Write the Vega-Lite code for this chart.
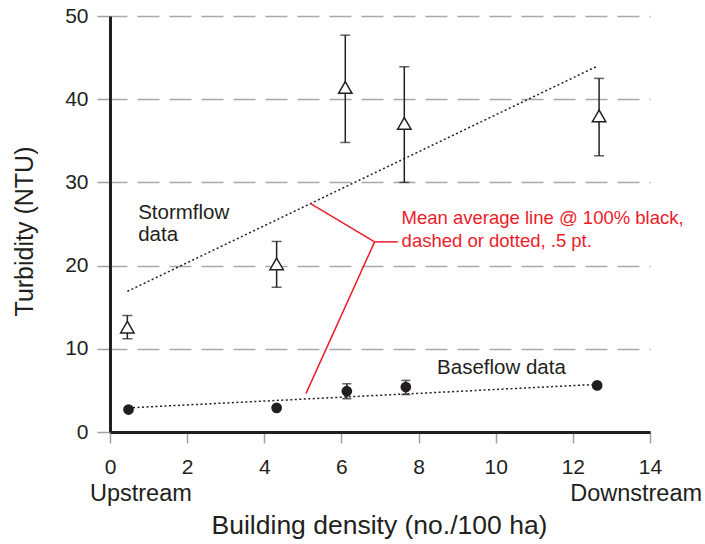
{
  "$schema": "https://vega.github.io/schema/vega-lite/v6.json",
  "autosize": {"type": "none"},
  "padding": {"left": 110, "top": 16, "right": 55, "bottom": 112},
  "width": 540,
  "height": 416,
  "background": "white",
  "config": {
    "view": {"stroke": null},
    "text": {"font": "Liberation Sans", "color": "#231f20"}
  },
  "datasets": {
    "storm": [
      {"x": 0.45, "y": 12.6, "lo": 11.2, "hi": 14.0},
      {"x": 4.32, "y": 20.2, "lo": 17.4, "hi": 22.9},
      {"x": 6.10, "y": 41.4, "lo": 34.8, "hi": 47.7},
      {"x": 7.63, "y": 37.1, "lo": 30.0, "hi": 43.9},
      {"x": 12.68, "y": 38.0, "lo": 33.2, "hi": 42.5}
    ],
    "base": [
      {"x": 0.48, "y": 2.7},
      {"x": 4.32, "y": 2.9},
      {"x": 6.14, "y": 4.9},
      {"x": 7.67, "y": 5.4},
      {"x": 12.63, "y": 5.6}
    ],
    "baseErr": [
      {"x": 6.14, "lo": 4.0, "hi": 5.8},
      {"x": 7.67, "lo": 4.5, "hi": 6.2}
    ],
    "trend": [
      {"x": 0.45, "y": 16.9, "x2": 12.6, "y2": 43.9},
      {"x": 0.48, "y": 2.9, "x2": 12.53, "y2": 5.7}
    ],
    "leader": [
      {"x": 5.19, "y": 27.47, "x2": 6.86, "y2": 22.85},
      {"x": 6.86, "y": 22.85, "x2": 7.46, "y2": 22.85},
      {"x": 6.86, "y": 22.85, "x2": 5.08, "y2": 4.61}
    ],
    "labels": [
      {"x": 0.73, "y": 25.6, "text": "Stormflow"},
      {"x": 0.73, "y": 22.9, "text": "data"},
      {"x": 8.48, "y": 6.97, "text": "Baseflow data"}
    ],
    "redLabels": [
      {"x": 7.56, "y": 24.96, "text": "Mean average line @ 100% black,"},
      {"x": 7.56, "y": 22.27, "text": "dashed or dotted, .5 pt."}
    ],
    "stream": [
      {"x": 0.80, "y": -8.29, "text": "Upstream"},
      {"x": 13.64, "y": -8.29, "text": "Downstream"}
    ]
  },
  "layer": [
    {
      "data": {"name": "storm"},
      "mark": {"type": "rule", "color": "#231f20", "strokeWidth": 1.5},
      "encoding": {
        "x": {
          "field": "x", "type": "quantitative",
          "scale": {"domain": [0, 14], "nice": false, "zero": false},
          "axis": {
            "title": "Building density (no./100 ha)",
            "values": [0, 2, 4, 6, 8, 10, 12, 14],
            "grid": false,
            "domainColor": "#231f20", "domainWidth": 3,
            "tickColor": "#a0a0a0", "tickWidth": 1.5, "tickSize": 11,
            "labelPadding": 13, "labelFontSize": 21, "labelFont": "Liberation Sans",
            "labelColor": "#231f20", "labelFlush": false,
            "titleFontSize": 26.5, "titleFont": "Liberation Sans", "titleFontWeight": "normal",
            "titleColor": "#231f20", "titleX": 269, "titleY": 101,
            "titleAlign": "center", "titleBaseline": "alphabetic"
          }
        },
        "y": {
          "field": "lo", "type": "quantitative",
          "scale": {"domain": [0, 50], "nice": false, "zero": false},
          "axis": {
            "title": "Turbidity (NTU)",
            "values": [0, 10, 20, 30, 40, 50],
            "grid": true, "gridColor": "#a8a8a8", "gridWidth": 1.5,
            "gridDash": [22, 10], "gridDashOffset": 5,
            "domainColor": "#231f20", "domainWidth": 3,
            "tickColor": "#a0a0a0", "tickWidth": 1.5, "tickSize": 13,
            "labelPadding": 9, "labelFontSize": 21, "labelFont": "Liberation Sans",
            "labelColor": "#231f20", "labelFlush": false,
            "titleFontSize": 25, "titleFont": "Liberation Sans", "titleFontWeight": "normal",
            "titleColor": "#231f20", "titleX": -78, "titleY": 215, "titleAngle": -90,
            "titleAlign": "center", "titleBaseline": "alphabetic"
          }
        },
        "y2": {"field": "hi"}
      }
    },
    {
      "data": {"name": "storm"},
      "mark": {"type": "tick", "orient": "horizontal", "size": 10, "thickness": 1.5, "color": "#231f20"},
      "encoding": {
        "x": {"field": "x", "type": "quantitative"},
        "y": {"field": "lo", "type": "quantitative"}
      }
    },
    {
      "data": {"name": "storm"},
      "mark": {"type": "tick", "orient": "horizontal", "size": 10, "thickness": 1.5, "color": "#231f20"},
      "encoding": {
        "x": {"field": "x", "type": "quantitative"},
        "y": {"field": "hi", "type": "quantitative"}
      }
    },
    {
      "data": {"name": "trend"},
      "mark": {"type": "rule", "color": "#231f20", "strokeWidth": 1.5, "strokeDash": [2, 2.5]},
      "encoding": {
        "x": {"field": "x", "type": "quantitative"},
        "y": {"field": "y", "type": "quantitative"},
        "x2": {"field": "x2"},
        "y2": {"field": "y2"}
      }
    },
    {
      "data": {"name": "storm"},
      "mark": {"type": "point", "shape": "triangle-up", "size": 180, "filled": true, "fill": "white", "stroke": "#231f20", "strokeWidth": 1.5, "opacity": 1},
      "encoding": {
        "x": {"field": "x", "type": "quantitative"},
        "y": {"field": "y", "type": "quantitative"}
      }
    },
    {
      "data": {"name": "baseErr"},
      "mark": {"type": "rule", "color": "#231f20", "strokeWidth": 1.5},
      "encoding": {
        "x": {"field": "x", "type": "quantitative"},
        "y": {"field": "lo", "type": "quantitative"},
        "y2": {"field": "hi"}
      }
    },
    {
      "data": {"name": "baseErr"},
      "mark": {"type": "tick", "orient": "horizontal", "size": 9, "thickness": 1.5, "color": "#231f20"},
      "encoding": {
        "x": {"field": "x", "type": "quantitative"},
        "y": {"field": "lo", "type": "quantitative"}
      }
    },
    {
      "data": {"name": "baseErr"},
      "mark": {"type": "tick", "orient": "horizontal", "size": 9, "thickness": 1.5, "color": "#231f20"},
      "encoding": {
        "x": {"field": "x", "type": "quantitative"},
        "y": {"field": "hi", "type": "quantitative"}
      }
    },
    {
      "data": {"name": "base"},
      "mark": {"type": "circle", "size": 115, "color": "#231f20", "opacity": 1},
      "encoding": {
        "x": {"field": "x", "type": "quantitative"},
        "y": {"field": "y", "type": "quantitative"}
      }
    },
    {
      "data": {"name": "leader"},
      "mark": {"type": "rule", "color": "#ec1c2b", "strokeWidth": 1.5},
      "encoding": {
        "x": {"field": "x", "type": "quantitative"},
        "y": {"field": "y", "type": "quantitative"},
        "x2": {"field": "x2"},
        "y2": {"field": "y2"}
      }
    },
    {
      "data": {"name": "labels"},
      "mark": {"type": "text", "align": "left", "baseline": "alphabetic", "fontSize": 20.5, "font": "Liberation Sans", "color": "#231f20"},
      "encoding": {
        "x": {"field": "x", "type": "quantitative"},
        "y": {"field": "y", "type": "quantitative"},
        "text": {"field": "text"}
      }
    },
    {
      "data": {"name": "redLabels"},
      "mark": {"type": "text", "align": "left", "baseline": "alphabetic", "fontSize": 18.5, "font": "Liberation Sans", "color": "#ec1c2b"},
      "encoding": {
        "x": {"field": "x", "type": "quantitative"},
        "y": {"field": "y", "type": "quantitative"},
        "text": {"field": "text"}
      }
    },
    {
      "data": {"name": "stream"},
      "mark": {"type": "text", "align": "center", "baseline": "alphabetic", "fontSize": 23.5, "font": "Liberation Sans", "color": "#231f20"},
      "encoding": {
        "x": {"field": "x", "type": "quantitative"},
        "y": {"field": "y", "type": "quantitative"},
        "text": {"field": "text"}
      }
    }
  ]
}
